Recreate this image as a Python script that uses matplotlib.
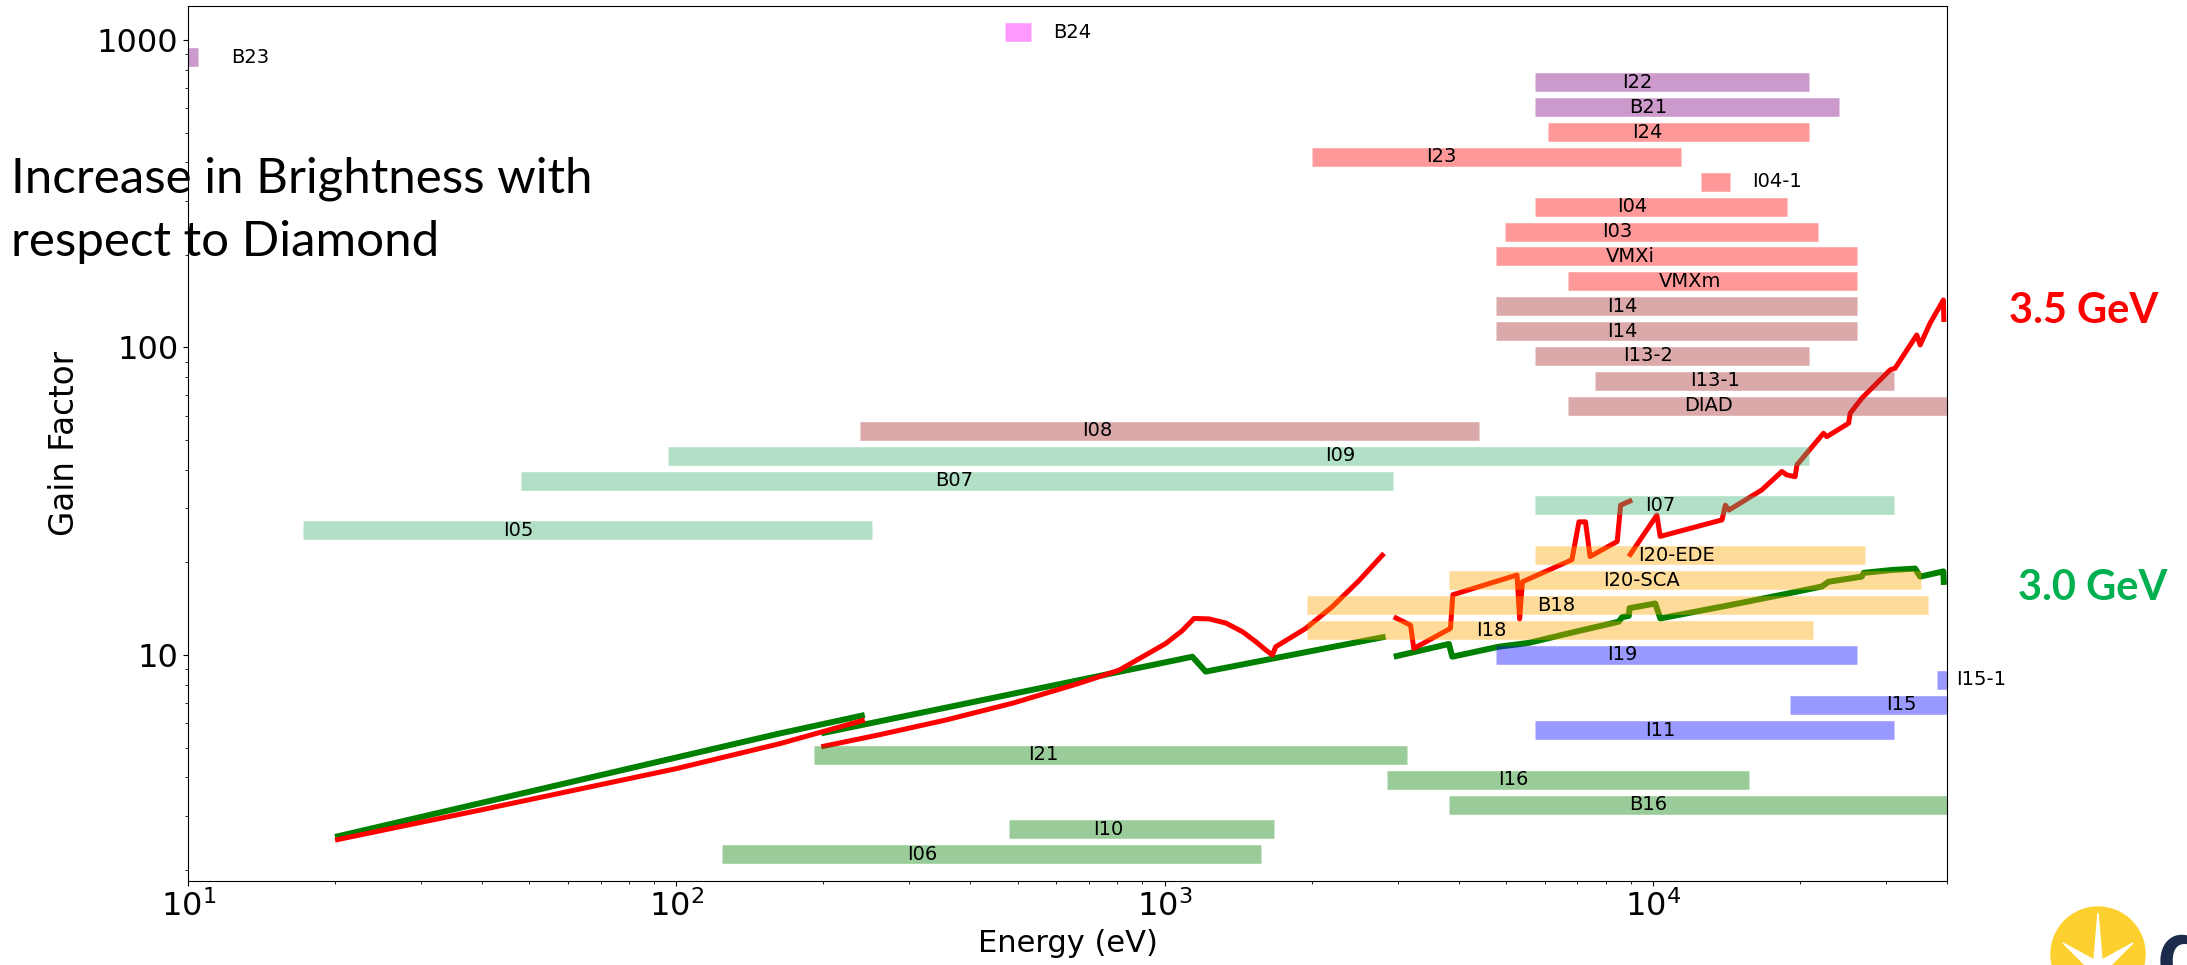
import numpy as np
import matplotlib.pyplot as plt
from matplotlib.ticker import FuncFormatter, NullFormatter
from matplotlib.patches import Circle, Polygon

# beamline energy ranges (eV) and gain level they are drawn at
beamlines = ["B24", "B23", "I22", "B21", "I24", "I23", "I04-1", "I04", "I03",
             "VMXi", "VMXm", "I14", "I14", "I13-2", "I13-1", "DIAD", "I08",
             "I09", "B07", "I07", "I05", "I20-EDE", "I20-SCA", "B18", "I18",
             "I19", "I15-1", "I15", "I11", "I21", "I16", "B16", "I10", "I06"]
bar_gain = [1059, 879, 729, 605, 502, 417, 346, 287, 238,
            198, 164, 136, 113, 93.9, 77.9, 64.7, 53.7,
            44.5, 36.9, 30.7, 25.4, 21.1, 17.5, 14.5, 12.05,
            10.0, 8.3, 6.9, 5.7, 4.74, 3.93, 3.26, 2.71, 2.25]
e_min = [470, 9, 5720, 5720, 6080, 2000, 12560, 5720, 4970,
         4770, 6680, 4770, 4770, 5720, 7590, 6680, 238,
         96, 48, 5720, 17.2, 5720, 3820, 1955, 1955,
         4770, 38200, 19100, 5720, 191, 2850, 3820, 479, 124]
e_max = [533, 10.5, 20900, 24000, 20900, 11400, 14400, 18800, 21800,
         26100, 26100, 26100, 26100, 20900, 31200, 45000, 4400,
         20900, 2930, 31200, 251, 27100, 35400, 36500, 21300,
         26100, 45000, 45000, 31200, 3130, 15700, 45000, 1675, 1575]
bar_color = ["magenta", "purple", "purple", "purple", "red", "red", "red", "red", "red",
             "red", "red", "brown", "brown", "brown", "brown", "brown", "brown",
             "mediumseagreen", "mediumseagreen", "mediumseagreen", "mediumseagreen",
             "orange", "orange", "orange", "orange",
             "blue", "blue", "blue", "blue", "green", "green", "green", "green", "green"]
label_e = [591, 12.25, 9284, 9750, 9750, 3686, 15930, 9085, 8445,
           9000, 11880, 8630, 8630, 9750, 13370, 13000, 727,
           2285, 371, 10340, 47.5, 11160, 9460, 6320, 4653,
           8630, 41800, 32260, 10360, 564, 5185, 9750, 766, 318]
label_side = ["B24", "B23", "I04-1", "I15-1"]  # labels written beside the bar

# gain curves, 3.5 GeV (red) and 3.0 GeV (green), one list per piece
red_pieces = [
    ([20, 40, 100, 163, 243], [2.5, 3.14, 4.27, 5.15, 6.15]),
    ([198, 260, 357, 488, 668, 807, 1005, 1086, 1148, 1233, 1334, 1443, 1536, 1610, 1661,
      1688, 1944, 2203, 2499, 2812],
     [5.03, 5.5, 6.15, 6.97, 8.09, 8.93, 10.9, 12.0, 13.15, 13.1, 12.7, 11.9, 11.05, 10.38, 10.0,
      10.64, 12.2, 14.35, 17.45, 21.4]),
    ([2944, 3187, 3236, 3846, 3890, 5265, 5330, 5400, 6820, 7050, 7270, 7430, 8445,
      8580, 9060],
     [13.3, 12.5, 10.5, 12.2, 15.7, 18.2, 13.1, 17.3, 20.4, 27.1, 27.1, 20.9, 23.4,
      30.7, 31.9]),
    ([8920, 10180, 10340, 13840, 14060, 14300, 16690, 18350, 18790, 19540, 19700,
      22330, 22690, 25140, 25330, 26760, 30590, 31300, 34670, 35230, 36920, 39310, 39400],
     [20.9, 28.5, 24.3, 27.5, 30.7, 29.6, 34.4, 39.5, 38.5, 38.0, 41.5,
      52.6, 51.3, 56.7, 61.1, 68.4, 84.6, 85.6, 109.8, 101.9, 120, 142.7, 121]),
]
green_pieces = [
    ([20, 163, 243], [2.56, 5.56, 6.38]),
    ([198, 1139, 1213, 2833], [5.56, 9.87, 8.83, 11.47]),
    ([2944, 3819, 3880, 4830, 5567, 6934, 8502, 8640, 8917, 8950, 10100, 10350, 14280,
      18350, 22160, 22860, 26740, 27000, 30850, 34400, 35230, 39310, 39400],
     [9.87, 10.86, 9.87, 10.64, 10.95, 11.9, 12.83, 13.27, 13.4, 14.2, 14.7, 13.15, 14.5,
      15.7, 16.7, 17.3, 17.98, 18.5, 18.9, 19.1, 17.98, 18.7, 16.9]),
]

plt.rcParams['font.family'] = 'DejaVu Sans'
fig = plt.figure(figsize=(21.87, 9.65), dpi=100)
ax = fig.add_axes([0.0860, 0.0870, 0.8043, 0.9068])
ax.set_xscale('log')
ax.set_yscale('log')

for e, g in green_pieces:
    ax.plot(e, g, color='green', lw=4.3, zorder=1, solid_capstyle='butt')
for e, g in red_pieces:
    ax.plot(e, g, color='red', lw=3.6, zorder=1.5, solid_capstyle='butt')

ax.hlines(bar_gain, e_min, e_max, colors=bar_color, lw=13.4, alpha=0.4,
          capstyle='butt', zorder=2)

for name, g, xe in zip(beamlines, bar_gain, label_e):
    ha = 'left' if name in label_side else 'center'
    ax.text(xe, g, name, ha=ha, va='center', fontsize=14, zorder=3, clip_on=False)

ax.set_xlim(10, 4e4)
ax.set_ylim(1.84, 1290)
ax.tick_params(labelsize=23)
ax.yaxis.set_major_formatter(FuncFormatter(lambda v, p: f'{v:g}'))
ax.yaxis.set_minor_formatter(NullFormatter())
ax.set_xlabel('Energy (eV)', fontsize=22)
ax.set_ylabel('Gain Factor', fontsize=23.5)
ax.yaxis.set_label_coords(-0.061, 0.5)

# slide annotations
fig.text(0.005, 0.801, 'Increase in Brightness with', fontsize=35.5, family='Lato')
fig.text(0.005, 0.7347, 'respect to Diamond', fontsize=35.5, family='Lato')
fig.text(0.9186, 0.6653, '3.5 GeV', fontsize=30, family='Lato', fontweight='bold', color='#FF0000')
fig.text(0.9227, 0.3782, '3.0 GeV', fontsize=30, family='Lato', fontweight='bold', color='#00B050')

# corner logo
tr = fig.dpi_scale_trans
fig.add_artist(Circle((20.98, 0.11), 0.47, color='#FDD02F', transform=tr, zorder=5))
cx, cy = 20.98, -0.07
star = [(cx, 0.52), (cx + 0.04, cy + 0.12), (21.33, 0.22), (cx + 0.08, cy + 0.02),
        (cx - 0.08, cy + 0.02), (20.63, 0.22), (cx - 0.04, cy + 0.12)]
fig.add_artist(Polygon(star, closed=True, color='white', transform=tr, zorder=6))
fig.text(0.986, -0.021, 'd', fontsize=70, family='Lato', fontweight='bold', color='#1C2B4B')

fig.savefig('out.png', dpi=100)
